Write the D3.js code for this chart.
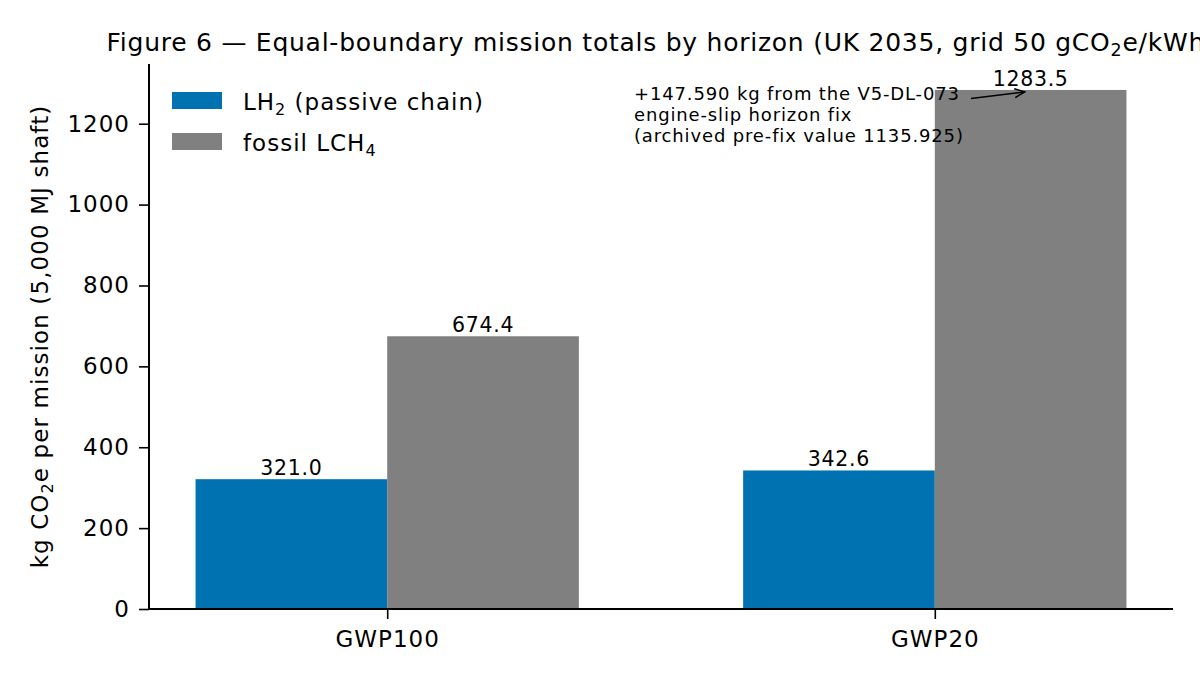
<!DOCTYPE html>
<html>
<head>
<meta charset="utf-8">
<script src="https://cdn.jsdelivr.net/npm/d3@7"></script>
<style>
  html, body { margin: 0; padding: 0; background: #fff; }
  svg { display: block; font-family: "DejaVu Sans", sans-serif; }
</style>
</head>
<body>
<svg id="chart" width="1200" height="680"></svg>
<script>
// Figure 6: equal-boundary mission totals, grouped bars by GWP horizon

const horizons = ['GWP100', 'GWP20'];
const lh2Values = [321.0, 342.6];
const lch4Values = [674.4, 1283.5];
const yTicks = [0, 200, 400, 600, 800, 1000, 1200];

const COLORS = { LH2: '#0072B2', LCH4: '#808080' };

const svg = d3.select('#chart');
const margin = { left: 149, right: 27, top: 64, bottom: 71 };
const W = 1200, H = 680;
const barW = 0.35;

const x = d3.scaleLinear()
  .domain([-0.435, horizons.length - 1 + 0.435])
  .range([margin.left, W - margin.right]);

const yMax = d3.max(lch4Values.concat(lh2Values)) * 1.05;
const y = d3.scaleLinear()
  .domain([0, yMax])
  .range([H - margin.bottom, margin.top]);

// Bars
const rows = [];
horizons.forEach((h, i) => {
  rows.push({ i, s: 'LH2', v: lh2Values[i], x0: i - barW, x1: i });
  rows.push({ i, s: 'LCH4', v: lch4Values[i], x0: i, x1: i + barW });
});

svg.append('g')
  .selectAll('rect')
  .data(rows)
  .join('rect')
  .attr('x', d => x(d.x0))
  .attr('width', d => x(d.x1) - x(d.x0))
  .attr('y', d => y(d.v))
  .attr('height', d => y(0) - y(d.v))
  .attr('fill', d => COLORS[d.s]);

// Value labels
svg.append('g')
  .selectAll('text')
  .data(rows)
  .join('text')
  .attr('x', d => x((d.x0 + d.x1) / 2))
  .attr('y', d => y(d.v) - 4)
  .attr('text-anchor', 'middle')
  .attr('font-size', 20.5)
  .attr('letter-spacing', 0.7)
  .attr('fill', '#000')
  .text(d => d.v.toFixed(1));

// Axes
const yAxis = svg.append('g')
  .attr('transform', `translate(${margin.left},0)`)
  .call(d3.axisLeft(y).tickValues(yTicks).tickSize(10).tickPadding(9).tickFormat(d3.format('d')));
yAxis.select('.domain').attr('stroke-width', 2).attr('d', `M0,${y(0)}V${margin.top}`);
yAxis.selectAll('.tick line').attr('stroke-width', 1.6);
yAxis.selectAll('.tick text').attr('font-size', 23).attr('letter-spacing', 1)
  .attr('font-family', 'DejaVu Sans').attr('fill', '#000');

const xAxis = svg.append('g')
  .attr('transform', `translate(0,${y(0)})`)
  .call(d3.axisBottom(x).tickValues(horizons.map((h, i) => i)).tickSize(10).tickPadding(12)
    .tickFormat(i => horizons[i]));
xAxis.select('.domain').attr('stroke-width', 2).attr('d', `M${margin.left},0H${W - margin.right}`);
xAxis.selectAll('.tick line').attr('stroke-width', 1.6);
xAxis.selectAll('.tick text').attr('font-size', 23).attr('letter-spacing', 1)
  .attr('font-family', 'DejaVu Sans').attr('fill', '#000');

// Y label
const yl = svg.append('text')
  .attr('transform', `translate(48,${(margin.top + y(0)) / 2}) rotate(-90)`)
  .attr('text-anchor', 'middle')
  .attr('font-size', 23)
  .attr('letter-spacing', 1.1);
yl.append('tspan').text('kg CO');
yl.append('tspan').attr('font-size', 16).attr('dy', 5).text('2');
yl.append('tspan').attr('dy', -5).text('e per mission (5,000 MJ shaft)');

// Title
const title = svg.append('text')
  .attr('x', (margin.left + W - margin.right) / 2)
  .attr('y', 51)
  .attr('text-anchor', 'middle')
  .attr('font-size', 25)
  .attr('letter-spacing', 0.75);
title.append('tspan').text('Figure 6 \u2014 Equal-boundary mission totals by horizon (UK 2035, grid 50 gCO');
title.append('tspan').attr('font-size', 17.5).attr('dy', 5).text('2');
title.append('tspan').attr('dy', -5).text('e/kWh)');

// Legend
const legend = svg.append('g').attr('transform', 'translate(172,92)');
const legendItems = [
  { s: 'LH2', main: 'LH', sub: '2', tail: ' (passive chain)' },
  { s: 'LCH4', main: 'fossil LCH', sub: '4', tail: '' }
];
legendItems.forEach((d, k) => {
  const g = legend.append('g').attr('transform', `translate(0,${k * 41})`);
  g.append('rect').attr('width', 50).attr('height', 17).attr('fill', COLORS[d.s]);
  const t = g.append('text').attr('x', 71).attr('y', 18).attr('font-size', 23).attr('letter-spacing', 1);
  t.append('tspan').text(d.main);
  t.append('tspan').attr('font-size', 16).attr('dy', 5).text(d.sub);
  if (d.tail) t.append('tspan').attr('dy', -5).text(d.tail);
});

// Annotation
const noteLines = [
  '+147.590 kg from the V5-DL-073',
  'engine-slip horizon fix',
  '(archived pre-fix value 1135.925)'
];
svg.append('text')
  .attr('font-size', 18)
  .attr('letter-spacing', 0.85)
  .selectAll('tspan')
  .data(noteLines)
  .join('tspan')
  .attr('x', 634)
  .attr('y', (d, k) => 100 + k * 20.8)
  .text(d => d);

svg.append('defs').append('marker')
  .attr('id', 'arr')
  .attr('viewBox', '0 0 12 12')
  .attr('refX', 11).attr('refY', 6)
  .attr('markerWidth', 12).attr('markerHeight', 12)
  .attr('markerUnits', 'userSpaceOnUse')
  .attr('orient', 'auto')
  .append('path')
  .attr('d', 'M1,1.5L11,6L1,10.5')
  .attr('fill', 'none').attr('stroke', '#000').attr('stroke-width', 1.6);

const tipX = x(1 + barW / 2) - 6, tipY = y(lch4Values[1]) + 2;
svg.append('line')
  .attr('x1', 971).attr('y1', 98.5)
  .attr('x2', tipX).attr('y2', tipY)
  .attr('stroke', '#000').attr('stroke-width', 1.6)
  .attr('marker-end', 'url(#arr)');
</script>
</body>
</html>
